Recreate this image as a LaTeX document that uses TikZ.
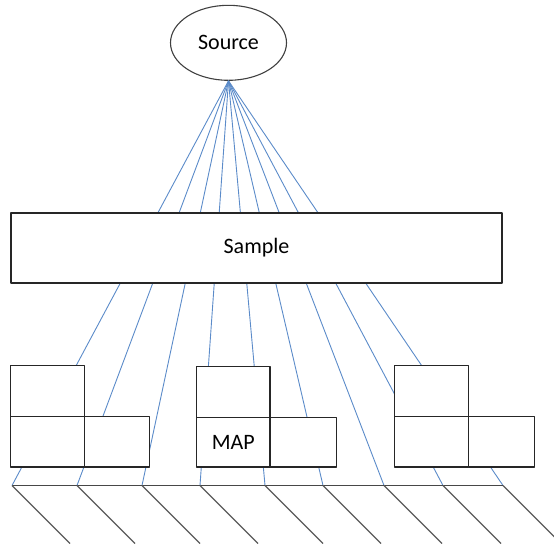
\documentclass[tikz,border=0pt]{standalone}
\usepackage{fontspec}
\setmainfont{Carlito}
\usetikzlibrary{shapes.geometric}

\definecolor{beamblue}{HTML}{5B8BC9}
\definecolor{boxedge}{HTML}{262626}
\definecolor{sourceedge}{HTML}{404040}
\definecolor{detectorgray}{HTML}{5A5A5A}

\begin{document}
\begin{tikzpicture}[
  x=1pt,
  y=-1pt,
  line join=round,
  beam/.style={draw=beamblue,line width=0.9pt},
  cell/.style={draw=boxedge,fill=white,line width=1.3pt,inner sep=0pt,outer sep=0pt,anchor=north west},
  baseline/.style={draw=boxedge!85,line width=1.3pt},
  detector/.style={draw=detectorgray,line width=1.1pt},
  label/.style={font=\fontsize{22}{25}\selectfont}
]
  % Frame of the original artwork.
  \useasboundingbox (0,0) rectangle (554,550);
  \clip (0,0) rectangle (554,550);

  % Source ellipse at the top; all beams leave from its lowest point.
  \node[ellipse,draw=sourceedge,line width=1.1pt,minimum width=116pt,minimum height=75pt,inner sep=0pt,label] (source) at (228.5,42.8) {Source};

  % Beam end points on the bottom line.
  \coordinate (b1) at (12,485.5);
  \coordinate (b2) at (77,485.5);
  \coordinate (b3) at (142,485.5);
  \coordinate (b4) at (200,485.5);
  \coordinate (b5) at (265,485.5);
  \coordinate (b6) at (323,485.5);
  \coordinate (b7) at (384,485.5);
  \coordinate (b8) at (443,485.5);
  \coordinate (b9) at (503,485.5);

  % Lower ends of the slanted detector strokes.
  \coordinate (d1) at (70,543.5);
  \coordinate (d2) at (135,543.5);
  \coordinate (d3) at (200,543.5);
  \coordinate (d4) at (258,543.5);
  \coordinate (d5) at (323,543.5);
  \coordinate (d6) at (381,543.5);
  \coordinate (d7) at (442,543.5);
  \coordinate (d8) at (501,543.5);
  \coordinate (d9) at (561,543.5);

  % Blue beams, drawn first so that the white boxes hide them.
  \draw[beam] (source.south) -- (b1);
  \draw[beam] (source.south) -- (b2);
  \draw[beam] (source.south) -- (b3);
  \draw[beam] (source.south) -- (b4);
  \draw[beam] (source.south) -- (b5);
  \draw[beam] (source.south) -- (b6);
  \draw[beam] (source.south) -- (b7);
  \draw[beam] (source.south) -- (b8);
  \draw[beam] (source.south) -- (b9);

  % Bottom line and the slanted strokes below it.
  \draw[baseline] (b1) -- (b9);
  \draw[detector] (b1) -- (d1);
  \draw[detector] (b2) -- (d2);
  \draw[detector] (b3) -- (d3);
  \draw[detector] (b4) -- (d4);
  \draw[detector] (b5) -- (d5);
  \draw[detector] (b6) -- (d6);
  \draw[detector] (b7) -- (d7);
  \draw[detector] (b8) -- (d8);
  \draw[detector] (b9) -- (d9);

  % Sample slab.
  \node[cell,minimum width=491pt,minimum height=70pt,label] (sample) at (11,213) {Sample};

  % Left group of cells.
  \node[cell,minimum width=73.6pt,minimum height=51pt] (leftTop) at (10.7,365.7) {};
  \node[cell,minimum width=73.6pt,minimum height=50.3pt] (leftBottom) at (10.7,416.7) {};
  \node[cell,minimum width=65pt,minimum height=50.3pt] (leftSide) at (84.3,416.7) {};

  % Middle group of cells.
  \node[cell,minimum width=73.3pt,minimum height=51pt] (midTop) at (196.7,366.7) {};
  \node[cell,minimum width=73.3pt,minimum height=49.3pt,label] (map) at (196.7,417.7) {MAP};
  \node[cell,minimum width=66.7pt,minimum height=49.3pt] (midSide) at (270,417.7) {};

  % Right group of cells.
  \node[cell,minimum width=74pt,minimum height=51pt] (rightTop) at (394.3,365.7) {};
  \node[cell,minimum width=74pt,minimum height=50.3pt] (rightBottom) at (394.3,416.7) {};
  \node[cell,minimum width=66pt,minimum height=50.3pt] (rightSide) at (468.3,416.7) {};
\end{tikzpicture}
\end{document}
